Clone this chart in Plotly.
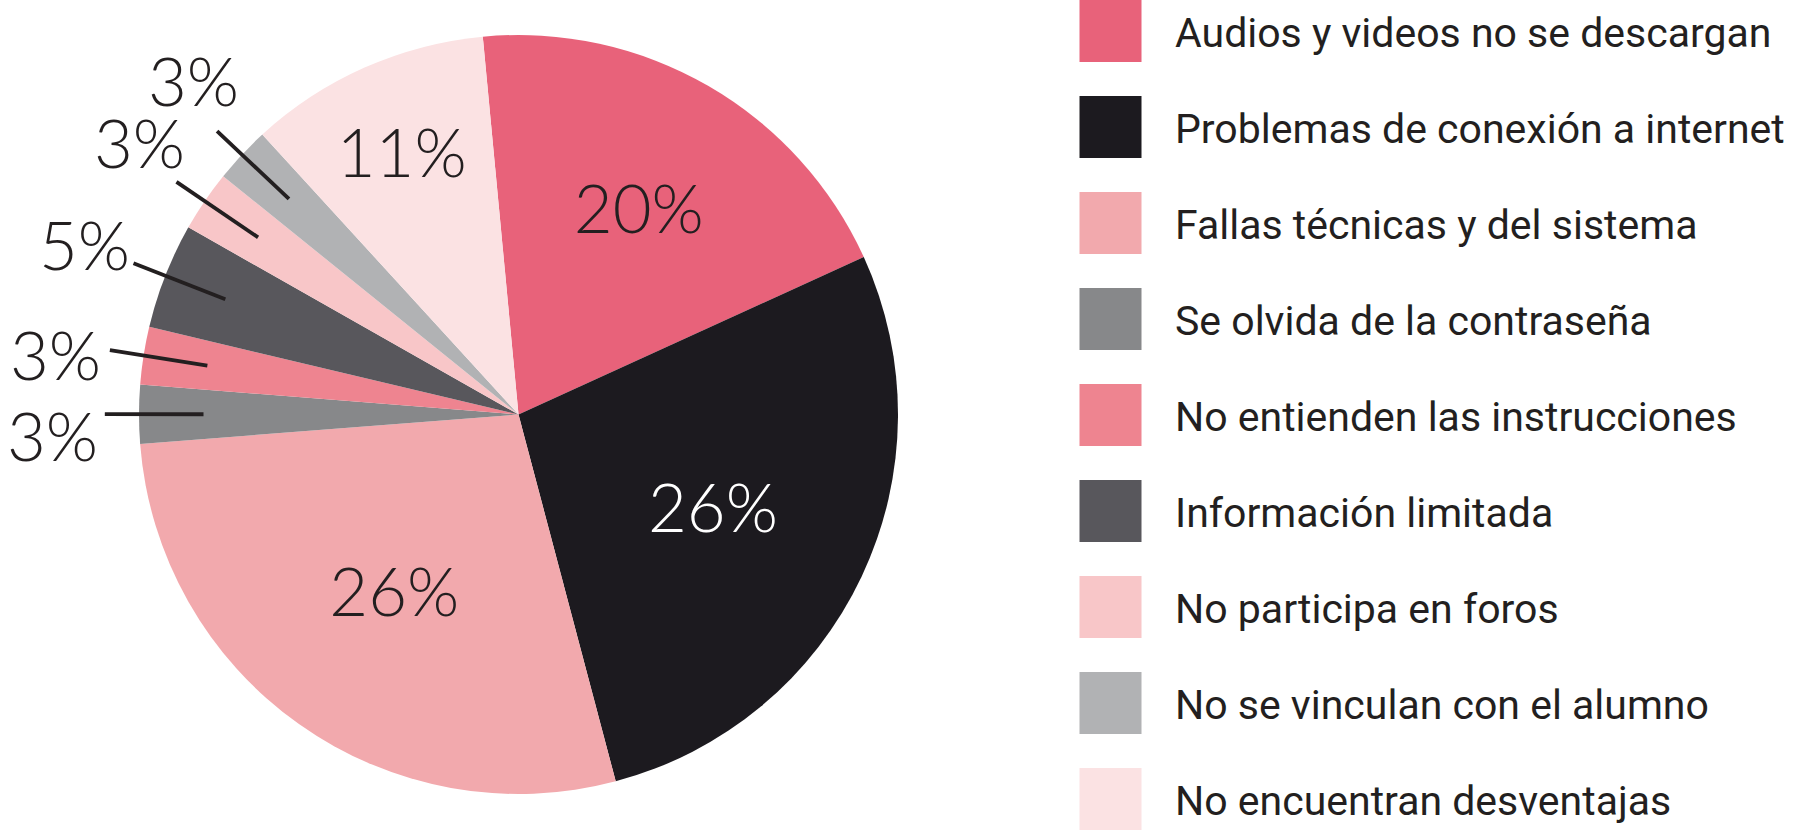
import math
import plotly.graph_objects as go

# data (slice sizes from the drawn angles, printed labels as shown)
categorias = [
    "Audios y videos no se descargan",
    "Problemas de conexión a internet",
    "Fallas técnicas y del sistema",
    "Se olvida de la contraseña",
    "No entienden las instrucciones",
    "Información limitada",
    "No participa en foros",
    "No se vinculan con el alumno",
    "No encuentran desventajas",
]
valores = [19.7, 27.7, 27.9, 2.5, 2.45, 4.5, 2.6, 2.4, 10.3]
etiquetas = ["20%", "26%", "26%", "3%", "3%", "5%", "3%", "3%", "11%"]
colores = ["#E8627A", "#1C1A1F", "#F2A9AD", "#87888A", "#EE8490",
           "#58575C", "#F8C6C8", "#B1B2B4", "#FBE2E3"]

# page / pie geometry in pixels
W, H = 1795, 830
CX, CY, R = 518.5, 414.5, 379.5
ROT = -5.4
TXT = "#231F20"
PCT_FONT = dict(family="Lato", size=67, weight=300)


def to_paper(px, py):
    return px / W, 1 - py / H


def polar(r, deg):
    a = math.radians(deg)
    return CX + r * math.sin(a), CY - r * math.cos(a)


pequenos = [v < 6 for v in valores]

fig = go.Figure()
fig.add_trace(go.Pie(
    labels=categorias,
    values=valores,
    text=etiquetas,
    textinfo="text",
    textposition=["none" if p else "inside" for p in pequenos],
    insidetextorientation="horizontal",
    textfont=dict(PCT_FONT, color=["white" if c == "#1C1A1F" else TXT for c in colores]),
    marker=dict(colors=colores, line=dict(width=0)),
    sort=False,
    direction="clockwise",
    rotation=ROT,
    hoverinfo="skip",
    domain=dict(x=[(CX - R) / W, (CX + R) / W], y=[1 - (CY + R) / H, 1 - (CY - R) / H]),
))

# mid angle of every slice
total = sum(valores)
mids = []
ang = ROT
for v in valores:
    mids.append(ang + 180.0 * v / total)
    ang += 360.0 * v / total

# outside labels with leader lines for the thin slices
small_mids = [m for m, p in zip(mids, pequenos) if p]
mean_mid = sum(small_mids) / len(small_mids)
for m, et, p in zip(mids, etiquetas, pequenos):
    if not p:
        continue
    x0, y0 = to_paper(*polar(0.83 * R, m))
    x1, y1 = to_paper(*polar(1.09 * R, m))
    fig.add_shape(type="line", xref="paper", yref="paper",
                  x0=x0, y0=y0, x1=x1, y1=y1,
                  line=dict(color=TXT, width=3.8))
    tx, ty = to_paper(*polar(1.23 * R, m + 0.12 * (m - mean_mid)))
    fig.add_annotation(x=tx, y=ty, xref="paper", yref="paper",
                       text=et, showarrow=False,
                       xanchor="center", yanchor="middle",
                       font=dict(PCT_FONT, color=TXT))

# legend drawn as squares + text
for i, (cat, col) in enumerate(zip(categorias, colores)):
    yc = 31 + 96 * i
    fig.add_shape(type="rect", xref="paper", yref="paper",
                  x0=1079.5 / W, x1=1141.5 / W,
                  y0=1 - (yc + 31) / H, y1=1 - (yc - 31) / H,
                  fillcolor=col, line=dict(width=0))
    fig.add_annotation(x=1173 / W, y=1 - (yc + 2) / H, xref="paper", yref="paper",
                       text=cat, showarrow=False, xanchor="left", yanchor="middle",
                       font=dict(family="Roboto", size=41, color=TXT))

fig.update_layout(
    width=W, height=H,
    margin=dict(l=0, r=0, t=0, b=0),
    paper_bgcolor="white", plot_bgcolor="white",
    showlegend=False,
)

fig.write_html("out.html", config={"displayModeBar": False},
               post_script="document.body.style.margin = '0';")
